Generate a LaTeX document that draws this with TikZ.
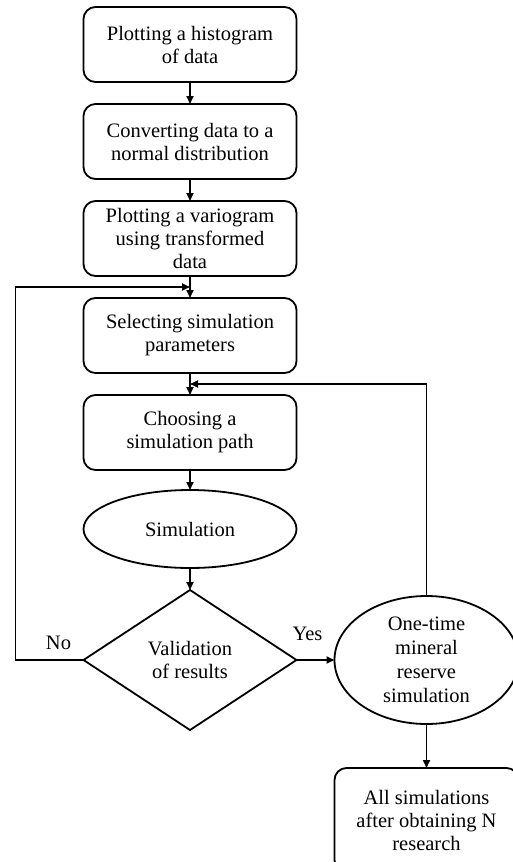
\documentclass[tikz,border=0pt]{standalone}
\usepackage{fontspec}
\setmainfont{Liberation Serif}
\usetikzlibrary{shapes.geometric, positioning, arrows.meta}
\tikzset{
    >={Triangle[length=8pt, width=7pt]}, % small filled arrow heads
    every node/.style={font=\fontsize{20.5}{23}\selectfont, align=center, outer sep=0pt},
    block/.style={draw, line width=1.8pt, rounded corners=12pt, minimum width=213pt, minimum height=75pt, inner sep=2pt}, % rounded process box
    oval/.style={draw, line width=1.8pt, ellipse, minimum width=213pt, minimum height=78pt, inner sep=0pt},
    check/.style={draw, line width=1.8pt, diamond, minimum width=213pt, minimum height=140pt, inner sep=0pt},
    flow/.style={->, line width=1.8pt},
    node distance=22pt, % gap between the boxes
}
\begin{document}
\begin{tikzpicture}
    \useasboundingbox (0,0) rectangle (513pt,-862pt);
    \node[block] (hist) at (190pt,-44.5pt) {Plotting a histogram\\of data};
    \node[block, below=of hist] (norm) {Converting data to a\\normal distribution};
    \node[block, below=of norm] (vario) {Plotting a variogram\\using transformed\\data};
    \node[block, below=of vario] (param) {Selecting simulation\\parameters};
    \node[block, below=of param] (path) {Choosing a\\simulation path};
    \node[oval, below=20pt of path] (sim) {Simulation};
    \node[check, below=22pt of sim] (valid) {Validation\\of results};
    \node[oval, minimum width=184pt, minimum height=128pt, inner ysep=-8pt, font=\fontsize{20.5}{24}\selectfont, right=38pt of valid] (once) {One-time\\mineral\\reserve\\simulation};
    \node[block, minimum width=184pt, minimum height=104pt, below=108pt of once.center] (all) {All simulations\\after obtaining N\\research};
    \node (no) at ([xshift=-25pt, yshift=17pt]valid.west) {No};
    \node (yes) at ([xshift=11pt, yshift=26pt]valid.east) {Yes};
    % meeting points of the two loops
    \path (vario.south) -- coordinate[midway] (join1) (param.north);
    \path (param.south) -- coordinate[midway] (join2) (path.north);
    \draw[flow] (hist) -- (norm);
    \draw[flow] (norm) -- (vario);
    \draw[flow] (vario) -- (param);
    \draw[flow] (param) -- (path);
    \draw[flow] (path) -- (sim);
    \draw[flow] (sim) -- (valid);
    \draw[flow] (valid) -- (once);
    \draw[flow] (once) -- (all);
    \draw[flow] (valid.west) -- ++(-68pt,0) |- (join1);
    \draw[flow] (once.north) |- (join2);
\end{tikzpicture}
\end{document}
